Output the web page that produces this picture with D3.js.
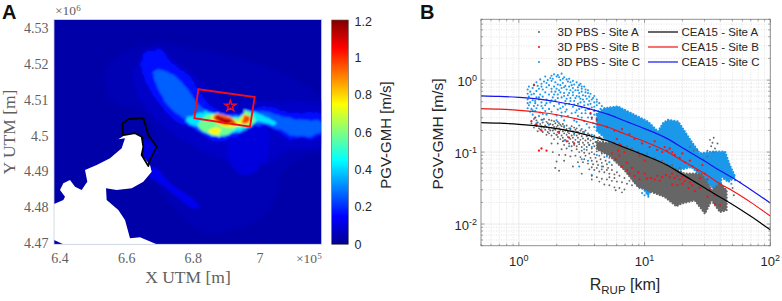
<!DOCTYPE html>
<html>
<head>
<meta charset="utf-8">
<script src="https://cdn.jsdelivr.net/npm/d3@7"></script>
<style>
  html, body { margin: 0; padding: 0; background: #fff; }
  svg { display: block; }
  text { font-family: "Liberation Sans", Arial, sans-serif; }
  .serif { font-family: "Liberation Serif", "DejaVu Serif", serif; fill: #5f5f5f; }
  .sans { fill: #262626; }
</style>
</head>
<body>
<div id="chart"></div>
<script>
// ---- panel A data, map coordinates in km (UTM)
const mapXTicks = [640, 660, 680, 700];
const mapXLabels = ["6.4", "6.6", "6.8", "7"];
const mapYTicks = [4470, 4480, 4490, 4500, 4510, 4520, 4530];
const mapYLabels = ["4.47", "4.48", "4.49", "4.5", "4.51", "4.52", "4.53"];
const barTicks = [0, 0.2, 0.4, 0.6, 0.8, 1, 1.2];
const jetStops = ["#00008f", "#0000ff", "#00ffff", "#ffff00", "#ff0000", "#800000"];
const jetDomain = [0, 0.15, 0.45, 0.75, 1.05, 1.2];

const halo = [[654,4519.4],[667,4526],[682,4524.1],[702,4519.4],[718.5,4510.1],[718.5,4497],[708,4491.4],[702,4478.4],[684,4472.8],[672,4482.1],[666,4493.3],[668,4500.8],[665,4506.4],[655,4510.1]];
const halo2 = [[662,4518],[668,4525],[675,4521],[684,4514],[690,4510],[702,4510],[718.5,4508],[718.5,4497],[708,4496],[700,4491],[690,4493],[680,4497],[672,4502],[664,4510]];
const southStreak = [[666,4491.4],[669,4491],[673,4486.8],[679,4483],[682,4480.2],[680,4479.8],[675,4483],[670,4486.8],[667,4488.6]];
const southColumn = [[691,4500],[702,4502.2],[702,4494.2],[696,4488.6],[691,4492.3]];
const innerPatch = [[665,4499],[669,4497],[667,4493],[664,4494]];
const band1 = [[664.5,4521.8],[670,4524.2],[673.5,4520.4],[679,4516.6],[682,4512],[685,4508.6],[688,4507],[692,4506.4],[698,4507.6],[702,4508.4],[708,4506.6],[718.5,4506],[718.5,4500.2],[712,4499],[708,4499.6],[704,4502],[699,4502.6],[694,4500.6],[691,4499],[686,4498.6],[681,4501.6],[675,4504],[670,4508.8],[666,4514.8]];
const band2 = [[668,4518.4],[673,4517.6],[678,4513.4],[682,4508.4],[686,4506.2],[694,4505.8],[700,4507.3],[706,4505.6],[712,4504.6],[718.5,4503.8],[718.5,4501.2],[710,4500],[706,4501.8],[700,4503.2],[692,4500.4],[684,4500.4],[678.5,4504],[672,4509]];
const cyanCore = [[682.5,4506.8],[687,4506.2],[692,4505],[698,4506.8],[701.5,4505.4],[705,4503.6],[702,4503.4],[698.5,4503.8],[694,4501.2],[690,4500.3],[685,4500.3],[681,4502.8],[678,4504]];
const greenCore = [[684.2,4505.9],[688,4505.9],[692,4504.5],[696.5,4506.8],[698.5,4504.5],[697.5,4502.8],[693,4502.2],[690,4500.3],[685,4500.3],[681.5,4502.8]];
const yellowCore = [[685.2,4505.4],[690,4505.9],[693,4504.3],[696,4505.9],[697.2,4504],[694,4502.8],[689,4502.6]];
const yellowSouth = [[684.5,4501.7],[688,4502.2],[687.2,4500.6],[685,4500.8]];
const redCore = [[686,4505.3],[690,4505.7],[692.5,4503.9],[691,4503.1],[687,4504]];
const redEast = [[695.5,4505.4],[697,4505.4],[696.5,4503.8],[694.5,4503.6]];
const darkCore = [[687,4505],[690,4505],[692,4503.6],[690,4503.4]];
const heatRegions = [halo, halo2, southStreak, southColumn, innerPatch, band1, band2, cyanCore, greenCore, yellowCore, yellowSouth, redCore, redEast, darkCore];
const heatValues = [0.05, 0.075, 0.13, 0.105, 0.11, 0.165, 0.26, 0.42, 0.58, 0.76, 0.76, 0.98, 0.98, 1.15];
const mapBackground = 0.035;

const land = [[638.2,4481],[639.8,4481.6],[641,4482.1],[641.5,4483],[640,4484.9],[641,4486.8],[643,4487.7],[644.5,4485.8],[646.5,4484.9],[647.5,4486.3],[648.2,4487.2],[647.5,4490.5],[651,4491.9],[655,4493.8],[658.5,4496.6],[659.5,4499.4],[657.5,4499.1],[659.5,4500.3],[662.5,4500.8],[664.5,4499.8],[665,4497],[664.5,4494.7],[667,4491.9],[667.5,4490],[665,4487.2],[661.5,4485.4],[657,4484.9],[653.8,4485.4],[654,4482.1],[657.5,4479.3],[659.5,4476.5],[661,4471.4],[664,4471.7],[669,4469.7],[641,4469.7],[638.2,4470.9]];
const basinOutline = [[658.8,4500.3],[658.8,4503.6],[660.5,4504.7],[665,4505],[666.5,4500.3],[669,4497],[667,4493.3],[666.5,4491.6],[664.5,4494.7],[665,4497],[664.5,4499.8],[662.5,4500.8],[659.5,4500.3]];
const faultBox = [[681.5,4513.1],[698.4,4510.9],[697,4502.6],[680.3,4505]];
const epicenter = [691.1, 4508.4];

// ---- panel B data
const rTicks = [1, 10, 100];
const rExp = ["0", "1", "2"];
const pgvTicks = [1, 0.1, 0.01];
const pgvExp = ["0", "-1", "-2"];
const curveR = [0.5,0.7,1,1.5,2,3,4,5,7,10,15,20,30,40,50,70,100];
const curveA = [.257,.252,.243,.228,.212,.185,.162,.145,.115,.09,.066,.049,.032,.0235,.0187,.0128,.0083];
const curveB = [.402,.395,.38,.355,.33,.285,.25,.225,.178,.14,.102,.076,.05,.036,.029,.02,.0129];
const curveC = [.605,.595,.575,.54,.50,.435,.38,.34,.27,.212,.155,.115,.075,.055,.044,.030,.0196];
const siteNames = ["Site A", "Site B", "Site C"];
const siteColors = ["#666666", "#f0141e", "#1c98ea"];
const lineColors = ["#000000", "#f01414", "#1414f0"];

// dense parts of the clouds, [log10 R, log10 PGV]
const blueDense = [[.62,-.47],[.68,-.391],[.787,-.367],[.893,-.46],[1.027,-.577],[1.107,-.716],[1.147,-.6],[1.187,-.553],[1.267,-.577],[1.32,-.716],[1.373,-.856],[1.44,-1.019],[1.533,-.995],[1.64,-.995],[1.672,-1.158],[1.72,-1.344],[1.667,-1.414],[1.613,-1.344],[1.6,-1.53],[1.533,-1.484],[1.373,-1.205],[1.16,-1.298],[1.027,-1.6],[.947,-1.391],[.84,-1.065],[.72,-.86],[.62,-.7]];
const grayDense = [[.62,-.86],[.72,-.87],[.84,-.93],[1,-1.05],[1.16,-1.16],[1.32,-1.3],[1.453,-1.298],[1.533,-1.53],[1.6,-1.437],[1.653,-1.53],[1.653,-1.809],[1.6,-1.833],[1.533,-1.67],[1.48,-1.856],[1.4,-1.67],[1.293,-1.716],[1.253,-1.753],[1.16,-1.623],[1.053,-1.553],[.947,-1.484],[.84,-1.251],[.72,-1.05],[.62,-.96]];

const bluePts = [[.28,.08],[.31,.07],[.34,.09],[.21,.05],[.25,.03],[.30,.05],[.36,.04],[.40,.02],[.17,.01],[.23,.0],[.27,.02],[.33,.0],[.38,.01],[.43,-.01],[.14,-.03],[.20,-.02],[.29,-.03],[.35,-.04],[.41,-.03],[.46,-.03],[.12,-.06],[.18,-.05],[.24,-.07],[.31,-.06],[.37,-.08],[.44,-.06],[.49,-.05],[.08,-.09],[.15,-.08],[.22,-.1],[.28,-.09],[.34,-.11],[.40,-.09],[.47,-.1],[.52,-.09],[.07,-.13],[.11,-.11],[.19,-.13],[.26,-.12],[.32,-.14],[.38,-.13],[.45,-.14],[.50,-.12],[.55,-.14],[.09,-.16],[.14,-.15],[.21,-.17],[.29,-.16],[.36,-.18],[.43,-.17],[.48,-.18],[.53,-.17],[.57,-.19],[.07,-.19],[.12,-.19],[.17,-.2],[.24,-.2],[.31,-.2],[.39,-.21],[.46,-.22],[.51,-.21],[.56,-.23],[.60,-.22],[.08,-.23],[.14,-.24],[.19,-.23],[.27,-.24],[.34,-.24],[.41,-.25],[.49,-.26],[.54,-.26],[.58,-.27],[.62,-.27],[.07,-.27],[.11,-.28],[.16,-.27],[.22,-.27],[.29,-.28],[.37,-.29],[.44,-.29],[.52,-.3],[.60,-.31],[.64,-.32],[.09,-.31],[.13,-.32],[.18,-.31],[.25,-.31],[.32,-.33],[.40,-.33],[.47,-.33],[.55,-.34],[.62,-.35],[.66,-.36],[.08,-.35],[.12,-.36],[.15,-.35],[.21,-.35],[.28,-.36],[.35,-.37],[.43,-.37],[.50,-.38],[.58,-.38],[.65,-.4],[.07,-.39],[.10,-.4],[.14,-.39],[.19,-.39],[.24,-.4],[.31,-.41],[.38,-.41],[.46,-.42],[.53,-.42],[.60,-.43],[.09,-.44],[.13,-.43],[.17,-.45],[.26,-.44],[.34,-.45],[.42,-.46],[.50,-.46],[.57,-.47],[.11,-.48],[.16,-.5],[.22,-.48],[.30,-.49],[.39,-.5],[.47,-.5],[.55,-.52],[.63,-.55],[.12,-.54],[.19,-.55],[.36,-.56],[.44,-.56],[.52,-.57],[.59,-.6],[.66,-.63],[.14,-.6],[.24,-.62],[.32,-.6],[.48,-.63],[.56,-.66],[.62,-.7],[.68,-.74],[.18,-.66],[.28,-.68],[.41,-.67],[.52,-.72],[.58,-.76],[.65,-.8],[.71,-.83],[.30,-.76],[.44,-.76],[.55,-.82],[.62,-.87],[.70,-.91],[.36,-.84],[.48,-.86],[.58,-.93],[.66,-.97],[.74,-1.0],[.40,-.92],[.52,-.96],[.62,-1.04],[.70,-1.06],[.78,-1.1],[.48,-1.2],[.50,-1.1],[.55,-1.12],[.66,-1.2],[.72,-1.14],[.58,-1.32],[.96,-1.5],[1.0,-1.6],[1.03,-1.62],[.98,-1.57],[.92,-1.42],[.88,-1.32],[1.72,-1.39],[1.76,-1.42],[1.69,-1.44],
  [.26,.06],[.32,.04],[.35,.02],[.26,-.01],[.39,-.02],[.22,-.04],[.33,-.07],[.42,-.07],[.48,-.07],[.18,-.09],[.36,-.1],[.43,-.11],[.5,-.09],[.16,-.12],[.3,-.12],[.41,-.14],[.47,-.14],[.53,-.13],[.26,-.16],[.33,-.17],[.4,-.18],[.5,-.16],[.55,-.18],[.1,-.2],[.28,-.2],[.36,-.22],[.43,-.21],[.48,-.23],[.53,-.22],[.59,-.25],[.16,-.24],[.31,-.25],[.38,-.26],[.45,-.25],[.51,-.27],[.56,-.29],[.62,-.3],[.13,-.29],[.26,-.28],[.41,-.29],[.49,-.31],[.57,-.33],[.07,-.32],[.22,-.32],[.37,-.34],[.44,-.34],[.52,-.35],[.6,-.37],[.18,-.36],[.33,-.39],[.48,-.4],[.55,-.4],[.63,-.43],[.11,-.42],[.21,-.43],[.37,-.44],[.45,-.45],[.53,-.46],[.6,-.48],[.67,-.46],[.19,-.47],[.34,-.51],[.5,-.52],[.58,-.54],[.65,-.57],[.3,-.56],[.46,-.58],[.54,-.61],[.6,-.65],[.68,-.66],[.36,-.64],[.5,-.68],[.64,-.72],[.7,-.72],[.46,-.72],[.6,-.81],[.68,-.82],[.56,-.9],[.72,-.92]];

const grayPts = [[.1,-.6],[.14,-.56],[.18,-.55],[.22,-.58],[.26,-.56],[.13,-.62],[.17,-.61],[.21,-.63],[.25,-.61],[.29,-.6],[.33,-.62],[.12,-.66],[.16,-.67],[.2,-.66],[.24,-.68],[.28,-.65],[.32,-.67],[.36,-.66],[.4,-.67],[.44,-.66],[.15,-.71],[.19,-.72],[.23,-.72],[.27,-.7],[.31,-.72],[.35,-.71],[.39,-.72],[.43,-.71],[.47,-.72],[.51,-.72],[.55,-.74],[.22,-.76],[.26,-.77],[.3,-.76],[.34,-.77],[.38,-.76],[.42,-.77],[.46,-.77],[.5,-.78],[.54,-.78],[.58,-.79],[.62,-.8],[.66,-.83],[.28,-.82],[.33,-.82],[.37,-.83],[.41,-.82],[.45,-.83],[.49,-.83],[.53,-.84],[.57,-.84],[.61,-.86],[.65,-.88],[.69,-.89],[.26,-.88],[.31,-.88],[.36,-.9],[.4,-.88],[.44,-.9],[.48,-.89],[.52,-.9],[.56,-.9],[.6,-.92],[.64,-.94],[.68,-.95],[.34,-.96],[.38,-.95],[.42,-.98],[.46,-.96],[.5,-.98],[.54,-.97],[.58,-1.0],[.62,-.99],[.66,-1.02],[.7,-1.03],[.27,-1.0],[.32,-1.04],[.37,-1.04],[.41,-1.06],[.45,-1.05],[.49,-1.07],[.53,-1.05],[.57,-1.08],[.61,-1.08],[.65,-1.1],[.69,-1.12],[.3,-1.13],[.36,-1.12],[.47,-1.14],[.51,-1.14],[.55,-1.16],[.59,-1.17],[.63,-1.18],[.67,-1.2],[.71,-1.22],[.29,-1.22],[.43,-1.2],[.56,-1.24],[.6,-1.25],[.64,-1.27],[.68,-1.28],[.72,-1.3],[.76,-1.31],[.32,-1.26],[.5,-1.3],[.58,-1.33],[.62,-1.35],[.66,-1.37],[.7,-1.38],[.74,-1.4],[.78,-1.41],[.82,-1.42],[.86,-1.44],[.58,-1.38],[.64,-1.41],[.68,-1.45],[.72,-1.46],[.76,-1.49],[.8,-1.5],[.84,-1.52],[.82,-1.56],[.77,-1.53],[1.52,-.83],[1.54,-.87],[1.55,-.8],[1.53,-.92],[1.56,-.95],[1.5,-.98],[1.55,-1.0],[1.36,-.93],[1.39,-.98],[1.42,-.97],[1.7,-1.5],[1.71,-1.6],
  [.2,-.54],[.24,-.55],[.28,-.57],[.31,-.58],[.15,-.59],[.19,-.59],[.23,-.6],[.27,-.62],[.31,-.63],[.35,-.61],[.38,-.63],[.14,-.64],[.18,-.64],[.22,-.65],[.26,-.66],[.3,-.65],[.34,-.64],[.38,-.68],[.42,-.64],[.46,-.67],[.17,-.69],[.21,-.69],[.25,-.7],[.29,-.69],[.33,-.69],[.37,-.7],[.41,-.69],[.45,-.69],[.49,-.7],[.53,-.7],[.24,-.74],[.28,-.74],[.32,-.74],[.36,-.74],[.4,-.74],[.44,-.74],[.48,-.75],[.52,-.75],[.56,-.76],[.6,-.77],[.64,-.79],[.31,-.79],[.35,-.8],[.39,-.79],[.43,-.8],[.47,-.8],[.51,-.81],[.55,-.81],[.59,-.82],[.63,-.84],[.67,-.85],[.35,-.85],[.39,-.85],[.43,-.86],[.47,-.86],[.51,-.87],[.55,-.87],[.59,-.88],[.63,-.91],[.42,-.92],[.46,-.92],[.5,-.93],[.54,-.93],[.58,-.95],[.62,-.95],[.66,-.92],[.48,-1.0],[.52,-1.01],[.56,-1.02],[.6,-1.03],[.64,-1.05],[.68,-1.07],[.72,-1.08],[.52,-1.1],[.58,-1.12],[.62,-1.13],[.66,-1.15],[.7,-1.17],[.74,-1.18],[.58,-1.21],[.62,-1.22],[.66,-1.24],[.7,-1.25],[.74,-1.25],[.78,-1.28],[.8,-1.33],[.84,-1.36],[.76,-1.36],[.72,-1.35],[.88,-1.4],[.9,-1.46],[1.58,-.88],[1.5,-1.06],[1.47,-1.1],[.76,-.87],[.8,-.88],[.86,-.92],[.9,-.95],[.95,-.99],[1.02,-1.02],[1.08,-1.08],[1.14,-1.12],[1.22,-1.18],[1.28,-1.22]];

const redPts = [[.16,-.98],[.18,-.95],[.22,-.98],[.1,-.57],[.14,-.62],[.18,-.7],[.13,-.52],[.12,-.07],[.32,-.72],[.4,-.8],[.44,-.88],[.38,-.85],[.56,-.4],[.57,-.46],[.6,-.42],[.58,-.52],[.62,-.55],[.7,-.65],[.76,-.7],[.82,-.68],[.78,-.82],[.81,-.9],[.79,-.98],[.74,-1.02],[.77,-1.1],[.8,-1.05],[.84,-1.0],[.82,-1.2],[.86,-1.15],[.86,-1.25],[.9,-1.22],[.88,-1.3],[.92,-1.33],[.95,-1.28],[.96,-1.38],[1.0,-1.3],[1.02,-1.37],[1.05,-1.36],[1.08,-1.38],[1.1,-1.33],[1.12,-1.4],[1.14,-1.35],[1.17,-1.32],[1.2,-1.35],[1.22,-1.3],[1.24,-1.36],[1.26,-1.33],[1.28,-1.38],[1.3,-1.34],[1.32,-1.4],[1.34,-1.36],[1.36,-1.42],[1.3,-1.44],[1.26,-1.46],[1.22,-1.45],[1.35,-1.5],[1.38,-1.46],[1.4,-1.54],[1.44,-1.5],[1.1,-.97],[1.14,-1.0],[1.16,-.93],[1.18,-.98],[1.2,-.95],[1.22,-1.0],[1.24,-1.04],[1.28,-1.08],[1.32,-1.14],[1.3,-1.02],[1.36,-1.12],[1.38,-1.2],[1.42,-1.25],[1.46,-1.18],[1.48,-1.3],[1.44,-1.36],[1.5,-1.38],[1.52,-1.52],[1.56,-1.6],[1.5,-1.62],[1.56,-1.72],[1.6,-1.74],[.98,-.88],[1.04,-.93],[1.08,-.85],[.92,-.82],[.88,-.75],[.96,-1.05],[1.0,-1.12]];

// ---- layout, pixels of the page
const WIDTH = 782, HEIGHT = 301;
const mapBox = {left: 54, right: 321.7, top: 19.5, bottom: 244.3};
const barBox = {left: 331.7, right: 348.3, top: 20, bottom: 244.3};
const logBox = {left: 481, right: 770.3, top: 19.3, bottom: 245.7};

const svg = d3.select("#chart").append("svg").attr("width", WIDTH).attr("height", HEIGHT);
const defs = svg.append("defs");

// ---- panel A
const mapX = d3.scaleLinear().domain([638.2, 718.5]).range([mapBox.left, mapBox.right]);
const mapY = d3.scaleLinear().domain([4469.7, 4532.6]).range([mapBox.bottom, mapBox.top]);
const jet = d3.scaleLinear().domain(jetDomain).range(jetStops).clamp(true);
const mapLine = d3.line().x(d => mapX(d[0])).y(d => mapY(d[1])).curve(d3.curveCatmullRomClosed.alpha(0.5));
const sharpLine = d3.line().x(d => mapX(d[0])).y(d => mapY(d[1])).curve(d3.curveLinearClosed);

defs.append("clipPath").attr("id", "mapClip").append("rect")
    .attr("x", mapBox.left).attr("y", mapBox.top)
    .attr("width", mapBox.right - mapBox.left).attr("height", mapBox.bottom - mapBox.top);
const heatFilter = defs.append("filter").attr("id", "heatBlur")
    .attr("filterUnits", "userSpaceOnUse").attr("x", 0).attr("y", 0).attr("width", 400).attr("height", 301);
// crumbly edges like the simulated field
heatFilter.append("feTurbulence").attr("type", "fractalNoise").attr("baseFrequency", 0.14).attr("numOctaves", 2).attr("seed", 4).attr("result", "n");
heatFilter.append("feDisplacementMap").attr("in", "SourceGraphic").attr("in2", "n").attr("scale", 5).attr("result", "d");
heatFilter.append("feGaussianBlur").attr("in", "d").attr("stdDeviation", 1.1);
defs.append("filter").attr("id", "softEdge").append("feGaussianBlur").attr("stdDeviation", 0.35);

const mapLayer = svg.append("g").attr("clip-path", "url(#mapClip)");
mapLayer.append("rect")
    .attr("x", mapBox.left).attr("y", mapBox.top)
    .attr("width", mapBox.right - mapBox.left).attr("height", mapBox.bottom - mapBox.top)
    .attr("fill", jet(mapBackground));
mapLayer.append("g").attr("filter", "url(#heatBlur)")
    .selectAll("path").data(heatRegions).enter().append("path")
    .attr("d", mapLine)
    .attr("fill", (d, i) => jet(heatValues[i]));
mapLayer.append("path").attr("d", sharpLine(land)).attr("fill", "#fff").attr("filter", "url(#softEdge)");
mapLayer.append("path").attr("d", sharpLine(basinOutline))
    .attr("fill", "none").attr("stroke", "#000").attr("stroke-width", 1.8).attr("stroke-linejoin", "round");
mapLayer.append("path").attr("d", sharpLine(faultBox))
    .attr("fill", "none").attr("stroke", "#f00d1e").attr("stroke-width", 1.9);
mapLayer.append("path")
    .attr("d", d3.symbol(d3.symbolStar, 38)())
    .attr("transform", "translate(" + mapX(epicenter[0]) + "," + mapY(epicenter[1]) + ")")
    .attr("fill", "none").attr("stroke", "#f00d1e").attr("stroke-width", 1.4);

svg.append("rect")
    .attr("x", mapBox.left).attr("y", mapBox.top)
    .attr("width", mapBox.right - mapBox.left).attr("height", mapBox.bottom - mapBox.top)
    .attr("fill", "none").attr("stroke", "#c8cfe0").attr("stroke-width", 0.8);

mapXTicks.forEach(function (t, i) {
    svg.append("text").attr("class", "serif").attr("x", mapX(t)).attr("y", 263)
        .attr("text-anchor", "middle").attr("font-size", 14).text(mapXLabels[i]);
});
mapYTicks.forEach(function (t, i) {
    svg.append("text").attr("class", "serif").attr("x", 48.5).attr("y", mapY(t) + 4.5)
        .attr("text-anchor", "end").attr("font-size", 14).text(mapYLabels[i]);
});
svg.append("text").attr("class", "serif").attr("x", 188).attr("y", 283)
    .attr("text-anchor", "middle").attr("font-size", 17.5).text("X UTM [m]");
svg.append("text").attr("class", "serif").attr("transform", "translate(15,132) rotate(-90)")
    .attr("text-anchor", "middle").attr("font-size", 17.5).text("Y UTM [m]");

const mult6 = svg.append("text").attr("class", "serif").attr("x", 55).attr("y", 15).attr("font-size", 13.5);
mult6.append("tspan").text("×10");
mult6.append("tspan").attr("dy", -4).attr("font-size", 9).text("6");
const mult5 = svg.append("text").attr("class", "serif").attr("x", 296).attr("y", 263).attr("font-size", 13.5);
mult5.append("tspan").text("×10");
mult5.append("tspan").attr("dy", -4).attr("font-size", 9).text("5");

// colour bar
const barY = d3.scaleLinear().domain([0, 1.2]).range([barBox.bottom, barBox.top]);
const barGradient = defs.append("linearGradient").attr("id", "jetBar")
    .attr("x1", 0).attr("x2", 0).attr("y1", 1).attr("y2", 0);
jetDomain.forEach(function (v, i) {
    barGradient.append("stop").attr("offset", (v / 1.2 * 100) + "%").attr("stop-color", jetStops[i]);
});
svg.append("rect")
    .attr("x", barBox.left).attr("y", barBox.top)
    .attr("width", barBox.right - barBox.left).attr("height", barBox.bottom - barBox.top)
    .attr("fill", "url(#jetBar)").attr("stroke", "#555").attr("stroke-width", 0.6);
barTicks.forEach(function (t) {
    svg.append("text").attr("class", "sans").attr("x", 354.5).attr("y", barY(t) + (t === 1.2 ? 6 : 4.5))
        .attr("font-size", 12.5).text(t);
});
svg.append("text").attr("class", "sans").attr("transform", "translate(391,135) rotate(-90)")
    .attr("text-anchor", "middle").attr("font-size", 15).text("PGV-GMH [m/s]");

// ---- panel B
const xLog = d3.scaleLog().domain([0.5, 100]).range([logBox.left, logBox.right]);
const yLog = d3.scaleLog().domain([0.005, 7]).range([logBox.bottom, logBox.top]);

const gridLayer = svg.append("g");
const xMinor = xLog.ticks().filter(d => rTicks.indexOf(d) < 0);
const yMinor = yLog.ticks().filter(d => pgvTicks.indexOf(d) < 0);
gridLayer.selectAll(".xm").data(xMinor).enter().append("line")
    .attr("x1", xLog).attr("x2", xLog).attr("y1", logBox.top).attr("y2", logBox.bottom)
    .attr("stroke", "#d9d9d9").attr("stroke-width", 0.7).attr("stroke-dasharray", "1,1.5");
gridLayer.selectAll(".ym").data(yMinor).enter().append("line")
    .attr("y1", yLog).attr("y2", yLog).attr("x1", logBox.left).attr("x2", logBox.right)
    .attr("stroke", "#d9d9d9").attr("stroke-width", 0.7).attr("stroke-dasharray", "1,1.5");
gridLayer.selectAll(".xj").data(rTicks).enter().append("line")
    .attr("x1", xLog).attr("x2", xLog).attr("y1", logBox.top).attr("y2", logBox.bottom)
    .attr("stroke", "#e4e4e4").attr("stroke-width", 0.8);
gridLayer.selectAll(".yj").data(pgvTicks).enter().append("line")
    .attr("y1", yLog).attr("y2", yLog).attr("x1", logBox.left).attr("x2", logBox.right)
    .attr("stroke", "#e4e4e4").attr("stroke-width", 0.8);

const fromLog = d => [Math.pow(10, d[0]), Math.pow(10, d[1])];
const logLine = d3.line().x(d => xLog(d[0])).y(d => yLog(d[1]));

// blue first, gray goes over it, red on top
// the round dashes stop the dense patches from having a hard edge
svg.append("path").attr("d", logLine.curve(d3.curveLinearClosed)(blueDense.map(fromLog))).attr("fill", siteColors[2])
    .attr("stroke", siteColors[2]).attr("stroke-width", 2.4).attr("stroke-dasharray", "0.1,3").attr("stroke-linecap", "round");
svg.append("g").selectAll("circle").data(bluePts.map(fromLog)).enter().append("circle")
    .attr("cx", d => xLog(d[0])).attr("cy", d => yLog(d[1])).attr("r", 1.05).attr("fill", siteColors[2]);
svg.append("path").attr("d", logLine.curve(d3.curveLinearClosed)(grayDense.map(fromLog))).attr("fill", siteColors[0])
    .attr("stroke", siteColors[0]).attr("stroke-width", 2.2).attr("stroke-dasharray", "0.1,3").attr("stroke-linecap", "round");
svg.append("g").selectAll("circle").data(grayPts.map(fromLog)).enter().append("circle")
    .attr("cx", d => xLog(d[0])).attr("cy", d => yLog(d[1])).attr("r", 0.95).attr("fill", siteColors[0]);
svg.append("g").selectAll("circle").data(redPts.map(fromLog)).enter().append("circle")
    .attr("cx", d => xLog(d[0])).attr("cy", d => yLog(d[1])).attr("r", 1.15).attr("fill", siteColors[1]);

const curveLine = d3.line().x(d => xLog(d[0])).y(d => yLog(d[1])).curve(d3.curveMonotoneX);
[curveA, curveB, curveC].forEach(function (vals, i) {
    svg.append("path").attr("d", curveLine(curveR.map((r, k) => [r, vals[k]])))
        .attr("fill", "none").attr("stroke", lineColors[i]).attr("stroke-width", 1.2);
});

// frame and ticks
svg.append("rect")
    .attr("x", logBox.left).attr("y", logBox.top)
    .attr("width", logBox.right - logBox.left).attr("height", logBox.bottom - logBox.top)
    .attr("fill", "none").attr("stroke", "#8a8a8a").attr("stroke-width", 0.9);
xLog.ticks().forEach(function (t) {
    const len = rTicks.indexOf(t) >= 0 ? 3.5 : 2;
    svg.append("line").attr("x1", xLog(t)).attr("x2", xLog(t)).attr("y1", logBox.bottom).attr("y2", logBox.bottom - len)
        .attr("stroke", "#666").attr("stroke-width", 0.6);
    svg.append("line").attr("x1", xLog(t)).attr("x2", xLog(t)).attr("y1", logBox.top).attr("y2", logBox.top + len)
        .attr("stroke", "#666").attr("stroke-width", 0.6);
});
yLog.ticks().forEach(function (t) {
    const len = pgvTicks.indexOf(t) >= 0 ? 3.5 : 2;
    svg.append("line").attr("y1", yLog(t)).attr("y2", yLog(t)).attr("x1", logBox.left).attr("x2", logBox.left + len)
        .attr("stroke", "#666").attr("stroke-width", 0.6);
    svg.append("line").attr("y1", yLog(t)).attr("y2", yLog(t)).attr("x1", logBox.right).attr("x2", logBox.right - len)
        .attr("stroke", "#666").attr("stroke-width", 0.6);
});

rTicks.forEach(function (t, i) {
    const label = svg.append("text").attr("class", "sans").attr("x", xLog(t)).attr("y", 266)
        .attr("text-anchor", "middle").attr("font-size", 13);
    label.append("tspan").text("10");
    label.append("tspan").attr("dy", -5).attr("font-size", 9).text(rExp[i]);
});
pgvTicks.forEach(function (t, i) {
    const label = svg.append("text").attr("class", "sans").attr("x", 477).attr("y", yLog(t) + 6)
        .attr("text-anchor", "end").attr("font-size", 13);
    label.append("tspan").text("10");
    label.append("tspan").attr("dy", -5).attr("font-size", 9).text(pgvExp[i]);
});
const rLabel = svg.append("text").attr("class", "sans").attr("x", 625).attr("y", 290)
    .attr("text-anchor", "middle").attr("font-size", 16);
rLabel.append("tspan").text("R");
rLabel.append("tspan").attr("dy", 4).attr("font-size", 11.5).text("RUP");
rLabel.append("tspan").attr("dy", -4).text(" [km]");
svg.append("text").attr("class", "sans").attr("transform", "translate(443,134) rotate(-90)")
    .attr("text-anchor", "middle").attr("font-size", 15.5).text("PGV-GMH [m/s]");

// legend
const legendRows = [36, 51, 66];
legendRows.forEach(function (y, i) {
    svg.append("circle").attr("cx", 539).attr("cy", y - 4).attr("r", 1.05).attr("fill", siteColors[i]);
    svg.append("text").attr("class", "sans").attr("x", 557.5).attr("y", y)
        .attr("font-size", 11.5).text("3D PBS - " + siteNames[i]);
    svg.append("line").attr("x1", 648).attr("x2", 678).attr("y1", y - 4).attr("y2", y - 4)
        .attr("stroke", lineColors[i]).attr("stroke-width", 1.2);
    svg.append("text").attr("class", "sans").attr("x", 681.5).attr("y", y)
        .attr("font-size", 11.5).text("CEA15 - " + siteNames[i]);
});

// panel letters
svg.append("text").attr("x", 2).attr("y", 19).attr("font-size", 20).attr("font-weight", "bold").attr("fill", "#111").text("A");
svg.append("text").attr("x", 420).attr("y", 19).attr("font-size", 20).attr("font-weight", "bold").attr("fill", "#111").text("B");
</script>
</body>
</html>
